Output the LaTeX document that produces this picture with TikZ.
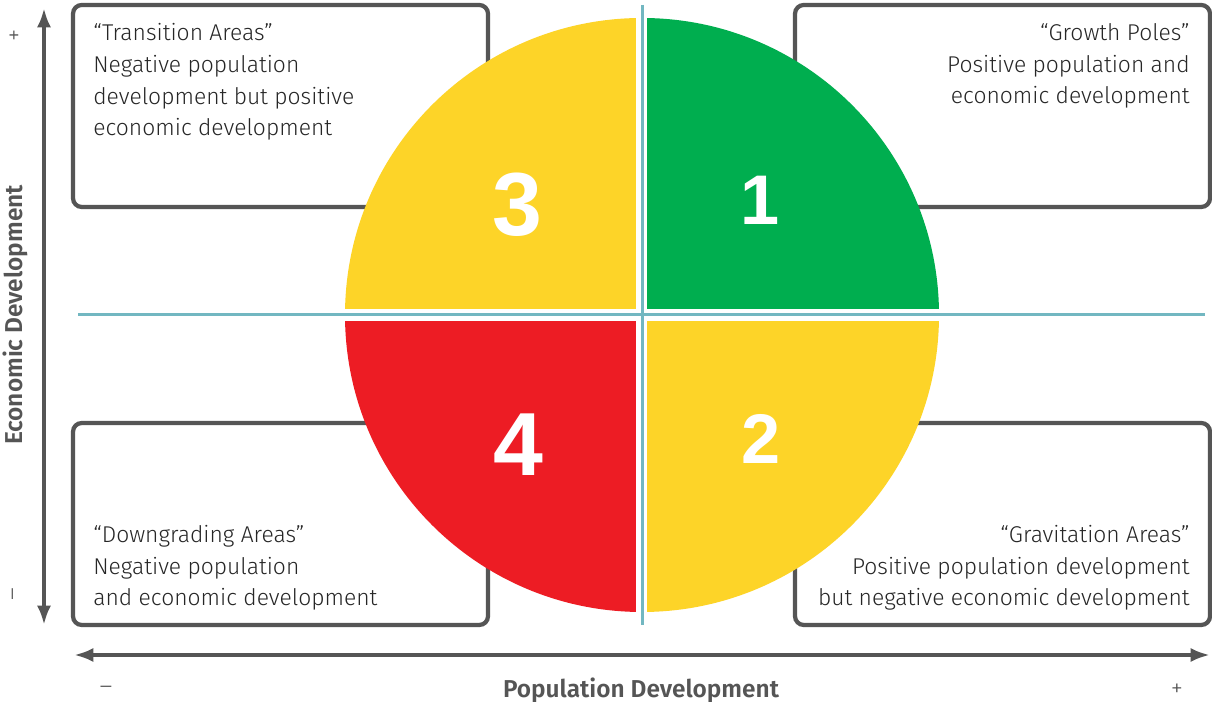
\documentclass[tikz,border=0pt]{standalone}
\usepackage{fontspec}
\setmainfont{Fira Sans}[UprightFont={* Light}, BoldFont={* SemiBold}]
\newfontfamily\digitfont{Liberation Sans}
\usepackage{tikz}
\usetikzlibrary{arrows.meta}
\definecolor{axisGray}{HTML}{555555}
\definecolor{lineBlue}{HTML}{72B7C1}
\definecolor{quadYellow}{HTML}{FDD428}
\definecolor{quadGreen}{HTML}{00AE4F}
\definecolor{quadRed}{HTML}{ED1C24}
\tikzstyle{areaBox}=[draw = axisGray, line width = 2.4pt, rounded corners = 5pt]
\tikzstyle{areaText}=[inner sep = 0pt, font = \fontsize{13}{18.1}\selectfont, text = black!85]

\begin{document}
\begin{tikzpicture}[x = 0.02cm, y = 0.02cm]
\tikzstyle{axisStyle}=[draw = axisGray, line width = 2.4pt, {Latex[length=11pt, width=8pt]}-{Latex[length=11pt, width=8pt]}]
\tikzstyle{axisLabel}=[text = axisGray, font = \fontsize{13.9}{16}\selectfont\bfseries]
\tikzstyle{signStyle}=[text = axisGray, font = \fontsize{14}{14}\selectfont]
\tikzstyle{bigNumber}=[text = white, font = \digitfont\bfseries]
\useasboundingbox[fill = white] (0,0) rectangle (1212,702);
% axes
\coordinate (yTop) at (44,694);
\coordinate (yBot) at (44,77);
\coordinate (xLeft) at (74,47);
\coordinate (xRight) at (1210,47);
\draw[axisStyle] (yBot) -- (yTop);
\draw[axisStyle] (xLeft) -- (xRight);
\node[axisLabel, rotate = 90] (ecoLabel) at (15,387) {Economic Development};
\node[axisLabel] (popLabel) at (641,12) {Population Development};
\node[signStyle, rotate = 90] (ecoPlus) at (16,667) {+};
\node[signStyle, rotate = 90] (ecoMinus) at (16,108) {--};
\node[signStyle] (popMinus) at (106,12) {--};
\node[signStyle] (popPlus) at (1177,12) {+};
% boxes behind the circle
\draw[areaBox] (73,697) rectangle (488,495);
\draw[areaBox] (795,697) rectangle (1210,495);
\draw[areaBox] (73,279) rectangle (488,77);
\draw[areaBox] (795,279) rectangle (1210,77);
\node[areaText, anchor = north west, align = left] (transText) at (93,679)
  {``Transition Areas''\\Negative population\\development but positive\\economic development};
\node[areaText, anchor = north east, align = right] (growthText) at (1190,679)
  {``Growth Poles''\\Positive population and\\economic development};
\node[areaText, anchor = south west, align = left] (downText) at (93,91)
  {``Downgrading Areas''\\Negative population\\and economic development};
\node[areaText, anchor = south east, align = right] (gravText) at (1190,91)
  {``Gravitation Areas''\\Positive population development\\but negative economic development};
% the four quadrants
\coordinate (c) at (642,387);
\fill[quadGreen] (c) -- (939,387) arc[start angle = 0, end angle = 90, radius = 297] -- cycle;
\fill[quadYellow] (c) -- (642,684) arc[start angle = 90, end angle = 180, radius = 297] -- cycle;
\fill[quadRed] (c) -- (345,387) arc[start angle = 180, end angle = 270, radius = 297] -- cycle;
\fill[quadYellow] (c) -- (642,90) arc[start angle = 270, end angle = 360, radius = 297] -- cycle;
\draw[white, line width = 0.22cm] (641.5,690) -- (641.5,84);
\draw[white, line width = 0.24cm] (340,387) -- (944,387);
\draw[lineBlue, line width = 0.06cm] (642,697) -- (642,77);
\draw[lineBlue, line width = 0.06cm] (78,387) -- (1205,387);
\node[bigNumber, font = \digitfont\bfseries\fontsize{51}{51}\selectfont] (n3) at (517,497) {3};
\node[bigNumber, font = \digitfont\bfseries\fontsize{40}{40}\selectfont] (n1) at (760,502) {1};
\node[bigNumber, font = \digitfont\bfseries\fontsize{51}{51}\selectfont] (n4) at (518,257) {4};
\node[bigNumber, font = \digitfont\bfseries\fontsize{40}{40}\selectfont] (n2) at (761,263) {2};
\end{tikzpicture}
\end{document}
